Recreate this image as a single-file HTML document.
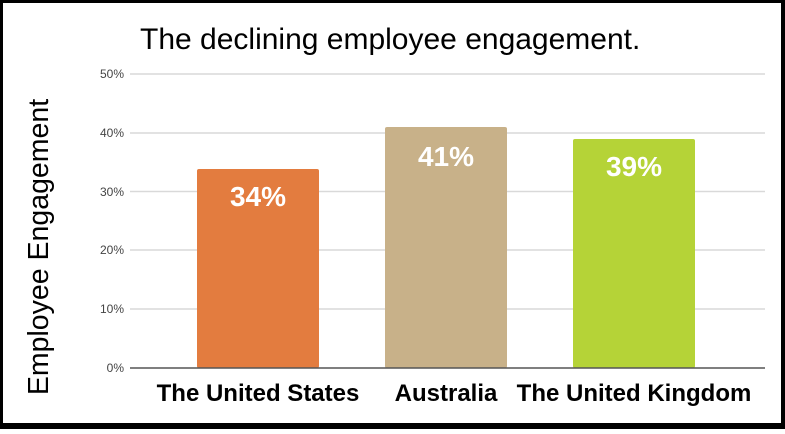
<!DOCTYPE html>
<html><head><style>
body{margin:0;background:#fff;}
</style></head><body>
<svg width="785" height="429" xmlns="http://www.w3.org/2000/svg" font-family="Liberation Sans, sans-serif">
<rect x="0" y="0" width="785" height="429" fill="#000"/>
<rect x="3" y="3" width="778" height="420" fill="#fff"/>
<text x="140" y="49" font-size="30" fill="#000">The declining employee engagement.</text>
<g stroke="#d9d9d9" stroke-width="1.5">
<line x1="130" x2="765" y1="74" y2="74"/>
<line x1="130" x2="765" y1="133" y2="133"/>
<line x1="130" x2="765" y1="191.5" y2="191.5"/>
<line x1="130" x2="765" y1="250" y2="250"/>
<line x1="130" x2="765" y1="309" y2="309"/>
</g>
<g font-size="12" fill="#444" text-anchor="end">
<text x="124" y="78">50%</text>
<text x="124" y="137">40%</text>
<text x="124" y="196">30%</text>
<text x="124" y="254">20%</text>
<text x="124" y="313">10%</text>
<text x="124" y="372">0%</text>
</g>
<rect x="197" y="169" width="122" height="199" rx="2" fill="#e37c3f"/>
<rect x="385" y="127" width="122" height="241" rx="2" fill="#c8b189"/>
<rect x="573" y="139" width="122" height="229" rx="2" fill="#b5d337"/>
<line x1="130" x2="765" y1="368" y2="368" stroke="#555" stroke-width="1.5"/>
<g font-size="28" font-weight="bold" fill="#fff" text-anchor="middle">
<text x="258" y="206">34%</text>
<text x="446" y="166">41%</text>
<text x="634" y="176">39%</text>
</g>
<g font-size="24" font-weight="bold" fill="#000" text-anchor="middle">
<text x="258" y="401">The United States</text>
<text x="446" y="401">Australia</text>
<text x="634" y="401">The United Kingdom</text>
</g>
<text transform="translate(48,247) rotate(-90)" font-size="28.5" text-anchor="middle" fill="#000">Employee Engagement</text>
</svg>
</body></html>
